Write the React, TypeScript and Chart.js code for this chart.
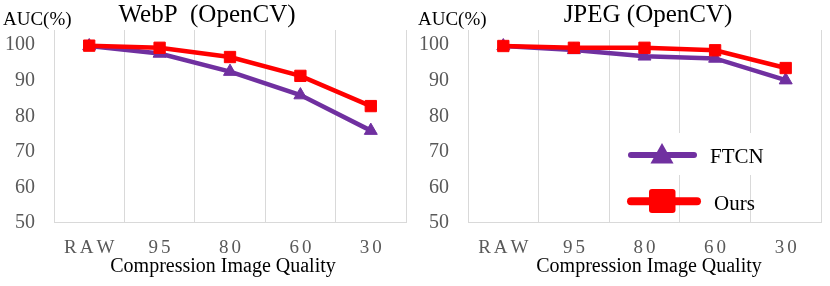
import React, { useEffect, useRef } from "react";
import { Chart, registerables } from "chart.js";

Chart.register(...registerables);

// ---------- data ----------
const categories = ["RAW", "95", "80", "60", "30"];
const seriesNames = ["FTCN", "Ours"];
const webpFTCN = [99.5, 97.4, 92.3, 85.7, 75.7];
const webpOurs = [99.6, 99.0, 96.4, 91.1, 82.6];
const jpegFTCN = [99.5, 98.4, 96.6, 96.0, 89.9];
const jpegOurs = [99.5, 99.0, 99.0, 98.3, 93.3];
const yTicks = [50, 60, 70, 80, 90, 100];
const panelTitles = ["WebP  (OpenCV)", "JPEG (OpenCV)"];
const yTitle = "AUC(%)";
const xTitle = "Compression Image Quality";

const SERIF = "'Liberation Serif', 'Times New Roman', serif";
const PURPLE = "#7030A0";
const RED = "#FF0000";
const GRID = "#d9d9d9";
const TICK = "#595959";

type PanelOpts = {
  title: string;
  titleX: number;
  yTitleX: number;
  xTitleX: number;
  ftcn: number[];
  ours: number[];
  yWidth: number;
  padRight: number;
  legend: boolean;
};

function spacedText(ctx: CanvasRenderingContext2D, s: string, cx: number, y: number, sp: number) {
  const chars = Array.from(s);
  const widths = chars.map((c) => ctx.measureText(c).width);
  const total = widths.reduce((a, b) => a + b, 0) + sp * (chars.length - 1);
  let x = cx - total / 2;
  ctx.textAlign = "left";
  chars.forEach((c, i) => {
    ctx.fillText(c, x, y);
    x += widths[i] + sp;
  });
}

function textPlugin(o: PanelOpts) {
  return {
    id: "panelText",
    afterDraw(chart: any) {
      const ctx: CanvasRenderingContext2D = chart.ctx;
      const xs = chart.scales.x;
      const ys = chart.scales.y;
      ctx.save();
      ctx.textBaseline = "alphabetic";
      // panel title
      ctx.fillStyle = "#000";
      ctx.font = `25px ${SERIF}`;
      ctx.textAlign = "center";
      ctx.fillText(o.title, o.titleX, 22);
      // y title
      ctx.font = `19px ${SERIF}`;
      ctx.textAlign = "left";
      ctx.fillText(yTitle, o.yTitleX, 25);
      // y tick labels
      ctx.fillStyle = TICK;
      ctx.font = `20px ${SERIF}`;
      ctx.textAlign = "right";
      ctx.textBaseline = "middle";
      yTicks.forEach((v) => {
        ctx.fillText(String(v), ys.left + ys.width - 19, ys.getPixelForValue(v) + 1);
      });
      ctx.textBaseline = "alphabetic";
      // x tick labels (letter-spaced)
      ctx.font = `19px ${SERIF}`;
      categories.forEach((c, i) => {
        spacedText(ctx, c, xs.getPixelForValue(i), 253, 3);
      });
      // x title
      ctx.font = `20px ${SERIF}`;
      ctx.fillStyle = "#000";
      ctx.textAlign = "center";
      ctx.fillText(xTitle, o.xTitleX, 272);

      if (o.legend) {
        ctx.fillStyle = "#fff";
        ctx.fillRect(205, 133, 180, 42);
        ctx.strokeStyle = PURPLE;
        ctx.lineWidth = 6;
        ctx.lineCap = "round";
        ctx.beginPath();
        ctx.moveTo(216, 155);
        ctx.lineTo(279, 155);
        ctx.stroke();
        ctx.fillStyle = PURPLE;
        ctx.beginPath();
        ctx.moveTo(247, 143);
        ctx.lineTo(258.5, 163.5);
        ctx.lineTo(235.5, 163.5);
        ctx.closePath();
        ctx.fill();
        ctx.fillStyle = "#000";
        ctx.font = `21px ${SERIF}`;
        ctx.textAlign = "left";
        ctx.fillText(seriesNames[0], 295, 163);
        ctx.strokeStyle = RED;
        ctx.lineWidth = 8;
        ctx.beginPath();
        ctx.moveTo(216, 201.3);
        ctx.lineTo(282, 201.3);
        ctx.stroke();
        ctx.fillStyle = RED;
        ctx.beginPath();
        (ctx as any).roundRect(234, 189, 26.5, 24, 3);
        ctx.fill();
        ctx.fillStyle = "#000";
        ctx.fillText(seriesNames[1], 299, 209.7);
      }
      ctx.restore();
    },
  };
}

function buildConfig(o: PanelOpts): any {
  return {
    type: "line",
    data: {
      labels: categories,
      datasets: [
        {
          label: seriesNames[0],
          data: o.ftcn,
          borderColor: PURPLE,
          backgroundColor: PURPLE,
          borderWidth: 4.5,
          pointStyle: "triangle",
          pointRadius: 7.5,
          pointBorderWidth: 1,
          tension: 0,
          order: 2,
        },
        {
          label: seriesNames[1],
          data: o.ours,
          borderColor: RED,
          backgroundColor: RED,
          borderWidth: 4.5,
          pointStyle: "rect",
          pointRadius: 8,
          pointBorderWidth: 1,
          tension: 0,
          order: 1,
        },
      ],
    },
    options: {
      responsive: false,
      animation: false,
      devicePixelRatio: 1,
      layout: { padding: { left: 0, right: o.padRight, top: 30, bottom: 0 } },
      plugins: {
        legend: { display: false },
        tooltip: { enabled: false },
        title: { display: false },
      },
      scales: {
        x: {
          type: "category",
          offset: true,
          grid: { color: GRID, lineWidth: 1, drawTicks: false, offset: true },
          border: { color: GRID, width: 1 },
          ticks: { display: false },
          afterFit: (s: any) => {
            s.height = 64;
          },
        },
        y: {
          min: 50,
          max: 104,
          ticks: { display: false, stepSize: 10, includeBounds: false },
          grid: { display: false, drawTicks: false },
          border: { display: false },
          afterBuildTicks: (s: any) => {
            s.ticks = yTicks.map((v) => ({ value: v }));
          },
          afterFit: (s: any) => {
            s.width = o.yWidth;
          },
        },
      },
    },
    plugins: [textPlugin(o)],
  };
}

function Panel({ opts, left }: { opts: PanelOpts; left: number }) {
  const ref = useRef<HTMLCanvasElement>(null);
  useEffect(() => {
    const chart = new Chart(ref.current as HTMLCanvasElement, buildConfig(opts));
    return () => chart.destroy();
  }, []);
  return (
    <canvas
      ref={ref}
      width={415}
      height={286}
      style={{ position: "absolute", left, top: 0, width: 415, height: 286 }}
    />
  );
}

const leftOpts: PanelOpts = {
  title: panelTitles[0],
  titleX: 207,
  yTitleX: 3,
  xTitleX: 223,
  ftcn: webpFTCN,
  ours: webpOurs,
  yWidth: 54,
  padRight: 5,
  legend: false,
};

const rightOpts: PanelOpts = {
  title: panelTitles[1],
  titleX: 233,
  yTitleX: 3,
  xTitleX: 234,
  ftcn: jpegFTCN,
  ours: jpegOurs,
  yWidth: 53,
  padRight: 7,
  legend: true,
};

export default function App() {
  return (
    <div
      style={{
        position: "absolute",
        left: 0,
        top: 0,
        width: 830,
        height: 286,
        background: "#fff",
        overflow: "hidden",
      }}
    >
      <Panel opts={leftOpts} left={0} />
      <Panel opts={rightOpts} left={415} />
    </div>
  );
}
